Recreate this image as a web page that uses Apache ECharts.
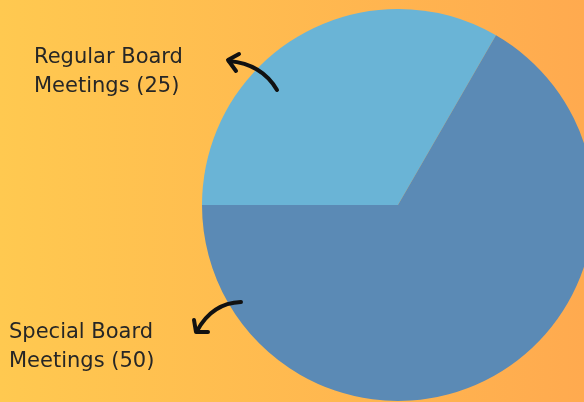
<!DOCTYPE html>
<html>
<head>
<meta charset="utf-8">
<script src="https://cdn.jsdelivr.net/npm/echarts@6/dist/echarts.min.js"></script>
<style>
  html, body { margin: 0; padding: 0; }
  #main { width: 584px; height: 402px; }
</style>
</head>
<body>
<div id="main"></div>
<script>
// meeting types and counts
var categories = ['Regular Board Meetings', 'Special Board Meetings'];
var counts = [25, 50];
var sliceColors = ['#6ab4d6', '#5b8ab5'];

var myChart = echarts.init(document.getElementById('main'));

var pieData = [];
for (var i = 0; i < categories.length; i++) {
  pieData.push({ name: categories[i], value: counts[i], itemStyle: { color: sliceColors[i] } });
}

var labelFont = { fontFamily: 'DejaVu Sans', fontSize: 21, fill: '#262626', lineHeight: 29 };
var arrowStyle = { stroke: '#111', lineWidth: 4, fill: null, lineCap: 'round', lineJoin: 'round' };

var option = {
  backgroundColor: new echarts.graphic.LinearGradient(0, 0, 1, 0, [
    { offset: 0, color: '#ffc950' },
    { offset: 1, color: '#ffaa4f' }
  ]),
  animation: false,
  series: [
    {
      type: 'pie',
      center: [398, 205],
      radius: 196,
      startAngle: 180,
      clockwise: true,
      label: { show: false },
      labelLine: { show: false },
      emphasis: { disabled: true },
      data: pieData
    }
  ],
  graphic: [
    {
      type: 'text', left: 34, top: 43, z: 100,
      style: Object.assign({ text: 'Regular Board\nMeetings (' + counts[0] + ')' }, labelFont)
    },
    {
      type: 'text', left: 9, top: 318, z: 100,
      style: Object.assign({ text: 'Special Board\nMeetings (' + counts[1] + ')' }, labelFont)
    },
    // arrow to the regular label
    {
      type: 'bezierCurve', z: 100,
      shape: { x1: 277, y1: 90, x2: 229, y2: 61, cpx1: 262, cpy1: 64 },
      style: arrowStyle
    },
    {
      type: 'polyline', z: 100,
      shape: { points: [[239, 54], [228, 60], [236, 71]] },
      style: arrowStyle
    },
    // arrow to the special label
    {
      type: 'bezierCurve', z: 100,
      shape: { x1: 241, y1: 302, x2: 197, y2: 331, cpx1: 212, cpy1: 303 },
      style: arrowStyle
    },
    {
      type: 'polyline', z: 100,
      shape: { points: [[194, 320], [196, 332], [208, 332]] },
      style: arrowStyle
    }
  ]
};

myChart.setOption(option);
window.addEventListener('resize', function () {
  myChart.resize();
});
</script>
</body>
</html>
